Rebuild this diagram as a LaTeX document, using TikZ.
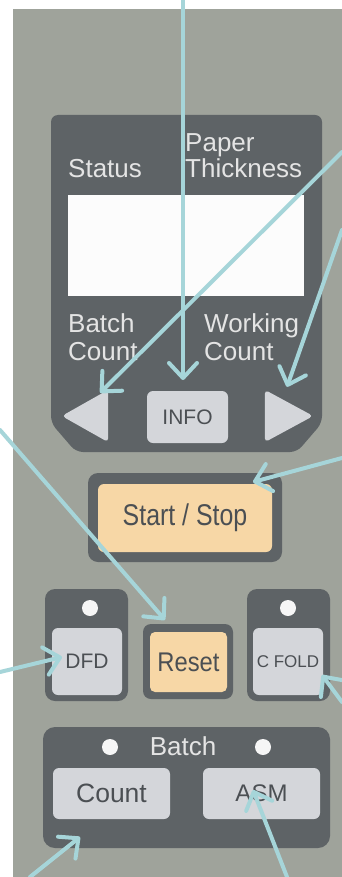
\documentclass[tikz,border=0pt]{standalone}
\usepackage{fontspec}
\setmainfont{Liberation Sans}
\usetikzlibrary{arrows.meta}
\definecolor{panel}{HTML}{9FA39B}
\definecolor{darkp}{HTML}{5E6366}
\definecolor{lightb}{HTML}{D4D6DA}
\definecolor{orangeb}{HTML}{F7D7A6}
\definecolor{btxt}{HTML}{4B4F53}
\definecolor{ltxt}{HTML}{E4E4E4}
\definecolor{arrowc}{HTML}{A6D5D9}
\definecolor{ledc}{HTML}{F6F6F6}
\tikzset{
  box/.style={inner sep=0pt, outer sep=0pt, rounded corners=#1},
  box/.default=6pt,
  frame/.style={box=10pt, fill=darkp},
  lbtn/.style={box=6pt, fill=lightb, text=btxt},
  obtn/.style={box=6pt, fill=orangeb, text=btxt},
  led/.style={circle, fill=ledc, minimum size=16pt, inner sep=0pt},
  lbl/.style={text=ltxt, inner sep=0pt, anchor=base west, font=\fontsize{26}{30}\selectfont},
  arr/.style={draw=arrowc, line width=4pt, line cap=round,
    -{Straight Barb[length=15pt,width=28pt,round]}}
}
\begin{document}
\begin{tikzpicture}[x=1pt,y=-1pt]
\useasboundingbox (0,0) rectangle (342,877);
\fill[white] (0,0) rectangle (342,877);
\fill[panel] (13,9) rectangle (342,877);
% display block
\fill[darkp, rounded corners=7pt] (51,115) -- (322,115) -- (322,423) -- (297,452) -- (76,452) -- (51,423) -- cycle;
\fill[white!98!gray] (68,195) rectangle (304,296);
\node[lbl] (status) at (68,178) {Status};
\node[lbl] (paper) at (185,152) {Paper};
\node[lbl] (thick) at (185,178) {Thickness};
\node[lbl] (batchl) at (68,332) {Batch};
\node[lbl] (countl) at (68,360) {Count};
\node[lbl] (working) at (204,332) {Working};
\node[lbl] (countr) at (204,360) {Count};
% triangles
\node[inner sep=0pt, minimum width=46pt, minimum height=52pt] (lefttri) at (85,416) {};
\fill[lightb, rounded corners=4pt] (lefttri.west) -- (lefttri.north east) -- (lefttri.south east) -- cycle;
\node[inner sep=0pt, minimum width=48pt, minimum height=52pt] (righttri) at (289,416) {};
\fill[lightb, rounded corners=4pt] (righttri.east) -- (righttri.south west) -- (righttri.north west) -- cycle;
\node[lbtn, minimum width=81pt, minimum height=52pt, font=\fontsize{21}{24}\selectfont] (info) at (187.5,417) {INFO};
% start / stop
\node[frame, minimum width=194pt, minimum height=89pt] (ssframe) at (185,517.5) {};
\node[obtn, minimum width=174pt, minimum height=68pt, font=\fontsize{30}{34}\selectfont] (ss) at (185,518) {\scalebox{0.83}[1]{Start / Stop}};
% DFD group
\node[frame, minimum width=83pt, minimum height=112pt] (dfdframe) at (86.5,645) {};
\node[led] (dfdled) at (90,608) {};
\node[lbtn, minimum width=70pt, minimum height=67pt, font=\fontsize{21}{24}\selectfont] (dfd) at (87,661.5) {DFD};
% Reset
\node[frame, box=8pt, minimum width=90pt, minimum height=75pt] (resetframe) at (188,661.5) {};
\node[obtn, box=5pt, minimum width=77pt, minimum height=60pt, font=\fontsize{27}{30}\selectfont] (reset) at (188.5,662) {\scalebox{0.88}[1]{Reset}};
% C FOLD group
\node[frame, minimum width=83pt, minimum height=112pt] (cfoldframe) at (288.5,645) {};
\node[led] (cfoldled) at (288,608) {};
\node[lbtn, minimum width=70pt, minimum height=67pt, font=\fontsize{17}{20}\selectfont] (cfold) at (288,661.5) {C FOLD};
% Batch group
\node[frame, box=12pt, minimum width=287pt, minimum height=121pt] (batchframe) at (186.5,787.5) {};
\node[led] (led1) at (110,747) {};
\node[led] (led2) at (263,747) {};
\node[text=ltxt, inner sep=0pt, anchor=base, font=\fontsize{26}{30}\selectfont] (batch) at (183,755) {Batch};
\node[lbtn, minimum width=117pt, minimum height=51pt, font=\fontsize{26.5}{30}\selectfont] (count) at (111.5,793.5) {Count};
\node[lbtn, minimum width=117pt, minimum height=51pt, font=\fontsize{24}{28}\selectfont] (asm) at (261.5,793.5) {ASM};
% arrow sources
\coordinate (s1) at (183,0);
\coordinate (s2) at (342,152);
\coordinate (s3) at (342,230);
\coordinate (s4) at (342,458);
\coordinate (s5) at (0,430);
\coordinate (s6) at (0,672);
\coordinate (s7) at (342,702);
\coordinate (s8) at (30,877);
\coordinate (s9) at (287,877);
% arrows
\draw[arr] (s1) -- ([xshift=-4.5pt,yshift=11pt]info.north);
\draw[arr] (s2) -- ([xshift=-8pt,yshift=-3pt]lefttri.north east);
\draw[arr] (s3) -- ([xshift=-2pt,yshift=3pt]righttri.north);
\draw[arr] (s4) -- ([xshift=68pt,yshift=2pt]ss.north);
\draw[arr] (s5) -- ([xshift=-23pt,yshift=4pt]resetframe.north);
\draw[arr] (s6) -- ([xshift=10pt,yshift=4.5pt]dfd.west);
\draw[arr] (s7) -- ([xshift=-1pt,yshift=-13.5pt]cfold.east);
\draw[arr] (s8) -- ([xshift=-31.5pt,yshift=-18pt]count.south);
\draw[arr] (s9) -- ([xshift=-8.5pt,yshift=3.5pt]asm.center);
\end{tikzpicture}
\end{document}
